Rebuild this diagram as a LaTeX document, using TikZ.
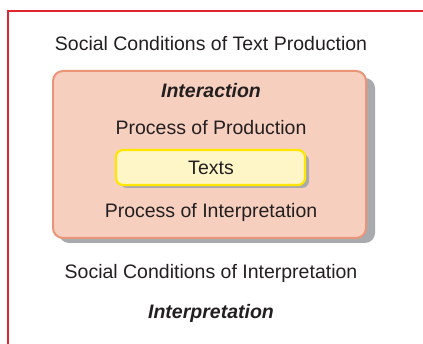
\documentclass[tikz,border=0pt]{standalone}
\usepackage{fontspec}
\setmainfont{Liberation Sans}
\definecolor{framered}{HTML}{E02430}
\definecolor{outerfill}{HTML}{F7CFBF}
\definecolor{outerdraw}{HTML}{EA9478}
\definecolor{innerfill}{HTML}{FFF6C8}
\definecolor{innerdraw}{HTML}{FFE600}
\definecolor{shadowgray}{HTML}{A9AAAE}
\definecolor{txt}{HTML}{231F20}
\begin{document}
\begin{tikzpicture}[x=1pt,y=1pt,
  lbl/.style={text=txt,font=\fontsize{19.5}{22}\selectfont,inner sep=0pt},
  ital/.style={lbl,font=\fontsize{19.5}{22}\selectfont\bfseries\itshape}]
\useasboundingbox (0,0) rectangle (423,344);
% red frame
\draw[framered,line width=2.5pt] (8,0) -- (8,333) -- (423,333);
% outer box with shadow
\fill[shadowgray,rounded corners=10pt] (59,101) rectangle (375,266);
\draw[outerdraw,fill=outerfill,line width=2pt,rounded corners=10pt] (53,106) rectangle (366,273);
% inner box
\fill[shadowgray,rounded corners=7pt] (120,156) rectangle (309,190);
\draw[innerdraw,fill=innerfill,line width=2.2pt,rounded corners=7pt] (116,159) rectangle (305,194);
\node[lbl] (t) at (211,176) {Texts};
\node[lbl] (scp) at (211,300) {Social Conditions of Text Production};
\node[ital] (inter) at (211,253) {Interaction};
\node[lbl] (pp) at (211,216) {Process of Production};
\node[lbl] (pi) at (211,132) {Process of Interpretation};
\node[lbl] (sci) at (211,71) {Social Conditions of Interpretation};
\node[ital] (interp) at (211,31) {Interpretation};
\end{tikzpicture}
\end{document}
